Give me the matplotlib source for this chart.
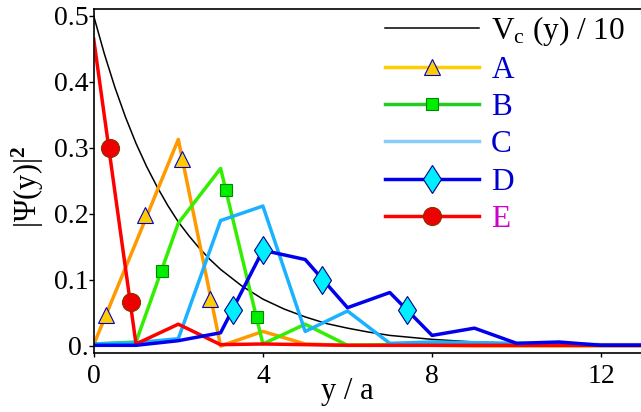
import numpy as np
import matplotlib.pyplot as plt
from matplotlib.lines import Line2D

plt.rcParams['font.family'] = ['Liberation Serif', 'DejaVu Serif']
plt.rcParams['mathtext.fontset'] = 'custom'
plt.rcParams['mathtext.rm'] = 'Liberation Serif'
plt.rcParams['mathtext.it'] = 'Liberation Serif:italic'
plt.rcParams['mathtext.bf'] = 'Liberation Serif:bold'

# grid positions y/a for the line series
ya = [0, 1, 2, 3, 4, 5, 6, 7, 8, 9, 10, 11, 12, 13]
psi_A = [0.002, 0.157, 0.313, 0.000, 0.022, 0.003, 0.001, 0.001, 0.001, 0.0, 0.0, 0.0, 0.0, 0.0]
psi_B = [0.003, 0.006, 0.186, 0.269, 0.003, 0.033, 0.001, 0.002, 0.003, 0.002, 0.001, 0.001, 0.001, 0.001]
psi_C = [0.003, 0.005, 0.011, 0.190, 0.212, 0.022, 0.053, 0.004, 0.006, 0.005, 0.004, 0.003, 0.002, 0.002]
psi_D = [0.001, 0.001, 0.008, 0.020, 0.145, 0.131, 0.058, 0.081, 0.016, 0.027, 0.004, 0.006, 0.001, 0.001]
psi_E = [0.465, 0.003, 0.033, 0.002, 0.003, 0.002, 0.001, 0.001, 0.001, 0.001, 0.001, 0.001, 0.001, 0.001]

# V_c(y)/10
vc_x = [0, 0.25, 0.5, 0.75, 1.0, 1.25, 1.5, 1.75, 2.0, 2.25, 2.5, 2.75, 3.0, 3.5, 4.0,
        4.5, 5.0, 5.5, 6.0, 6.5, 7.0, 7.5, 8.0, 9.0, 10.0, 11.0, 12.0, 13.0]
vc_y = [0.500, 0.443, 0.392, 0.347, 0.307, 0.272, 0.241, 0.213, 0.188, 0.167, 0.148, 0.131,
        0.116, 0.091, 0.071, 0.056, 0.044, 0.034, 0.027, 0.021, 0.016, 0.013, 0.010, 0.006,
        0.004, 0.002, 0.001, 0.001]

# separate marker points
mA_x = [0.28, 1.22, 2.09, 2.76]
mA_y = [0.047, 0.198, 0.283, 0.071]
mB_x = [1.61, 3.12, 3.85]
mB_y = [0.114, 0.236, 0.044]
mD_x = [3.29, 4.0, 5.39, 7.41]
mD_y = [0.055, 0.145, 0.100, 0.055]
mE_x = [0.38, 0.875]
mE_y = [0.300, 0.066]

labels = ['V$_\\mathrm{c}$ (y) / 10', 'A', 'B', 'C', 'D', 'E']
label_colors = ['black', '#0000CC', '#0000CC', '#0000CC', '#0000CC', '#CC00CC']

fig = plt.figure(figsize=(6.41, 4.12), dpi=100)
ax = fig.add_axes([93.7 / 641, 59.3 / 412, 549.9 / 641, 344 / 412])

lw = 2.5
ax.plot(vc_x, vc_y, color='black', lw=1.1)
ax.plot(ya, psi_A, color='#FF9900', lw=lw)
ax.plot(ya, psi_B, color='#33EE00', lw=lw)
ax.plot(ya, psi_C, color='#1AB2FF', lw=lw)
ax.plot(ya, psi_E, color='#FF0000', lw=lw)
ax.plot(ya, psi_D, color='#0000EE', lw=lw)

ax.plot(mA_x, mA_y, ls='none', marker='^', ms=12, mfc='#FFCC00', mec='#0000CC', mew=0.8)
ax.plot(mB_x, mB_y, ls='none', marker='s', ms=8.5, mfc='#00EE00', mec='#008800', mew=0.8)
ax.plot(mD_x, mD_y, ls='none', marker='d', ms=14.5, mfc='#00EEFF', mec='#000088', mew=0.8)
ax.plot(mE_x, mE_y, ls='none', marker='o', ms=13, mfc='#EE0000', mec='#883300', mew=0.8)

ax.set_xlim(0, 13)
ax.set_ylim(-0.0102, 0.511)
ax.set_xticks([0, 4, 8, 12])
ax.set_yticks([0, 0.1, 0.2, 0.3, 0.4, 0.5])
ax.set_yticklabels(['0.', '0.1', '0.2', '0.3', '0.4', '0.5'])
ax.tick_params(direction='out', labelsize=20, width=1)
ax.tick_params(axis='x', length=3, pad=5)
ax.tick_params(axis='y', length=3.5, pad=0)
for s in ax.spines.values():
    s.set_linewidth(1.2)

ax.text(0.4615, -0.112, 'y / a', transform=ax.transAxes, ha='center', va='center', fontsize=22)
ax.text(-0.1195, 0.4817, '|Ψ(y)|$^{\\mathbf{2}}$', transform=ax.transAxes, ha='center',
        va='center', rotation=90, fontsize=22)

handles = [
    Line2D([], [], color='black', lw=1.1),
    Line2D([], [], color='#FFCC00', lw=lw, marker='^', ms=12, mfc='#FFCC00', mec='#0000CC', mew=0.8),
    Line2D([], [], color='#22CC22', lw=lw, marker='s', ms=8.5, mfc='#00EE00', mec='#008800', mew=0.8),
    Line2D([], [], color='#88CCF8', lw=lw),
    Line2D([], [], color='#0000EE', lw=lw, marker='d', ms=14.5, mfc='#00EEFF', mec='#000088', mew=0.8),
    Line2D([], [], color='#FF0000', lw=lw, marker='o', ms=13, mfc='#EE0000', mec='#883300', mew=0.8),
]
leg = ax.legend(handles, labels, loc='upper left', bbox_to_anchor=(385 / 641, 398 / 412),
                bbox_transform=fig.transFigure, frameon=False, fontsize=22.5,
                handlelength=3.0, handletextpad=0.4, labelspacing=0.26, borderpad=0,
                borderaxespad=0, markerscale=1)
for t, c in zip(leg.get_texts(), label_colors):
    t.set_color(c)

fig.savefig('out.png', dpi=100)
